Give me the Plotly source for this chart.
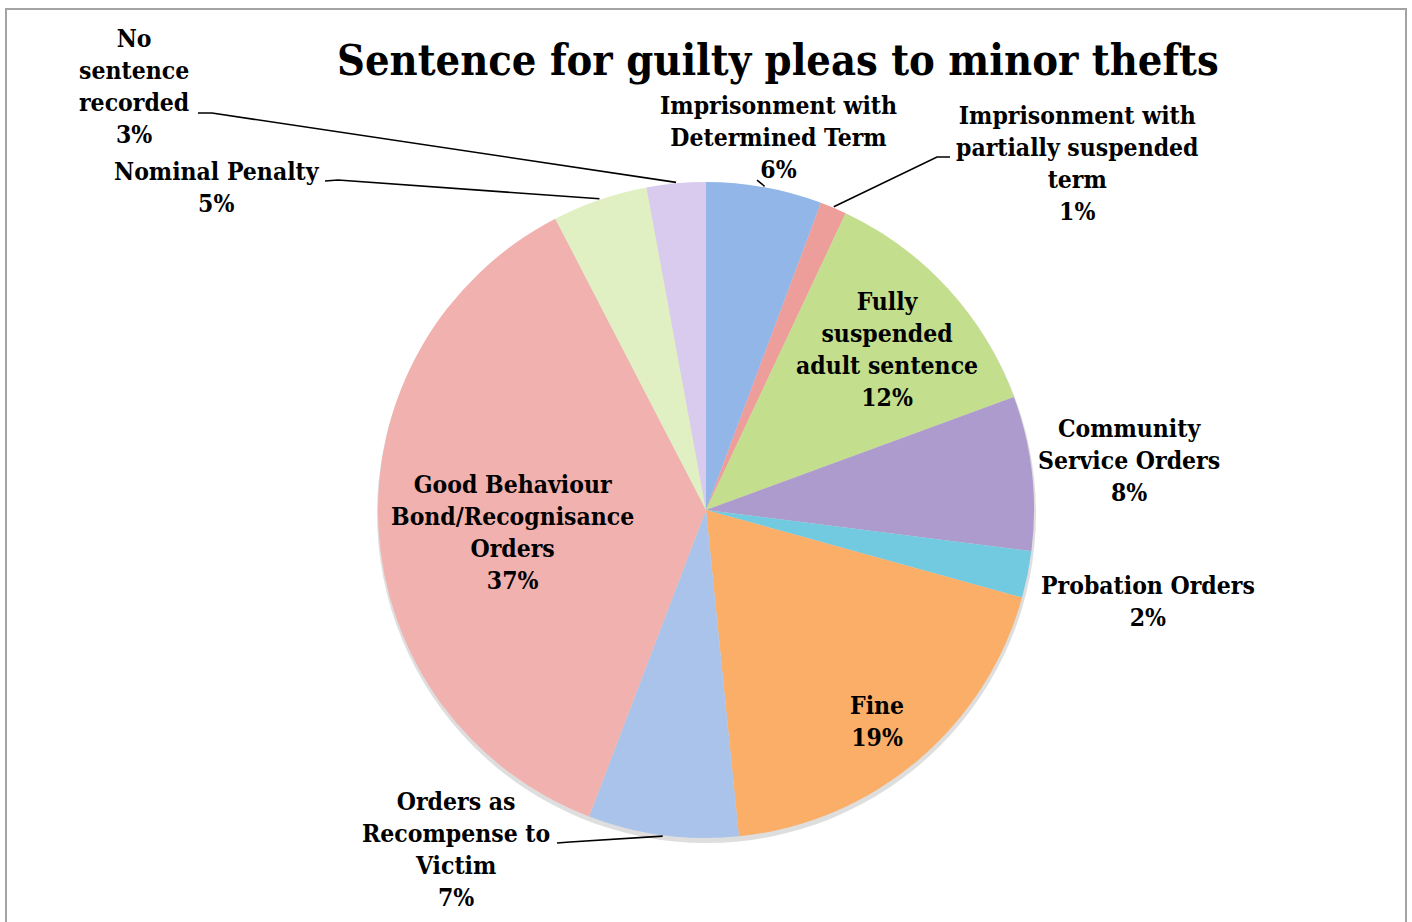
import math
import plotly.graph_objects as go

# ---- data ----
categories = [
    "Imprisonment with Determined Term",
    "Imprisonment with partially suspended term",
    "Fully suspended adult sentence",
    "Community Service Orders",
    "Probation Orders",
    "Fine",
    "Orders as Recompense to Victim",
    "Good Behaviour Bond/Recognisance Orders",
    "Nominal Penalty",
    "No sentence recorded",
]
values = [5.7, 1.3, 12.4, 7.6, 2.3, 19.1, 7.4, 36.6, 4.7, 2.9]
label_text = [
    "Imprisonment with<br>Determined Term",
    "Imprisonment with<br>partially suspended<br>term",
    "Fully<br>suspended<br>adult sentence",
    "Community<br>Service Orders",
    "Probation Orders",
    "Fine",
    "Orders as<br>Recompense to<br>Victim",
    "Good Behaviour<br>Bond/Recognisance<br>Orders",
    "Nominal Penalty",
    "No<br>sentence<br>recorded",
]
title_text = "Sentence for guilty pleas to minor thefts"

# ---- style ----
colors = ["#92b6e8", "#ee9e9a", "#c3de8c", "#ae9bcd", "#72cae1",
          "#fbae68", "#aac3ea", "#f1b1ae", "#e0f0c2", "#d8cbee"]
FONT = "DejaVu Serif Condensed, DejaVu Serif, serif"
FS = 24.5

W, H = 1412, 922
CX, CY, R = 706, 510, 328  # pie centre / radius in pixels


def px(x):
    return x / W


def py(y):
    return 1 - y / H


# label block centres (pixels)
label_pos = [(778, 137), (1077, 164), (887, 350), (1129, 460), (1148, 601),
             (877, 721), (456, 849), (512, 532), (217, 188), (134, 86)]
# leader lines: index -> (text-side point, elbow point)
leaders = {
    9: ((198, 113), (212, 113)),
    8: ((325, 181), (338, 180)),
    1: ((950, 157), (937, 157)),
    6: ((557, 843), (570, 842)),
    0: ((757, 180), (758, 181)),
}

fig = go.Figure()
fig.add_trace(go.Pie(
    labels=categories, values=values, sort=False, direction="clockwise",
    rotation=0, textinfo="none", hoverinfo="label+percent",
    marker=dict(colors=colors, line=dict(width=0)),
    domain=dict(x=[px(CX - R), px(CX + R)], y=[py(CY + R), py(CY - R)]),
    showlegend=False,
))

total = sum(values)
cum = 0.0
annotations = []
shapes = []
for i, v in enumerate(values):
    frac_mid = (cum + v / 2) / total
    cum += v
    pct = round(v / total * 100)
    x, y = label_pos[i]
    annotations.append(dict(
        x=px(x), y=py(y), xref="paper", yref="paper", showarrow=False,
        text=f"<b>{label_text[i]}<br>{pct}%</b>", align="center",
        xanchor="center", yanchor="middle",
        font=dict(family=FONT, size=FS, color="black"),
    ))
    if i in leaders:
        th = 2 * math.pi * frac_mid
        ex = CX + (R + 1) * math.sin(th)
        ey = CY - (R + 1) * math.cos(th)
        (x0, y0), (x1, y1) = leaders[i]
        path = f"M {px(x0)},{py(y0)} L {px(x1)},{py(y1)} L {px(ex)},{py(ey)}"
        shapes.append(dict(type="path", xref="paper", yref="paper", path=path,
                           line=dict(color="black", width=1.6)))

# soft shadow under the pie
shapes.insert(0, dict(type="circle", xref="paper", yref="paper", layer="below",
                      x0=px(CX - R - 1), x1=px(CX + R + 2),
                      y0=py(CY + R + 5), y1=py(CY - R + 2),
                      fillcolor="rgba(0,0,0,0.13)", line=dict(width=0)))
# chart frame
shapes.append(dict(type="rect", xref="paper", yref="paper",
                   x0=px(6), x1=px(1406), y0=py(940), y1=py(9),
                   line=dict(color="#a3a3a3", width=2)))

annotations.append(dict(
    x=px(778), y=py(60), xref="paper", yref="paper", showarrow=False,
    text=f"<b>{title_text}</b>", xanchor="center", yanchor="middle",
    font=dict(family=FONT, size=43, color="black"),
))

fig.update_layout(
    width=W, height=H, margin=dict(l=0, r=0, t=0, b=0),
    paper_bgcolor="white", plot_bgcolor="white",
    annotations=annotations, shapes=shapes,
)
fig.write_html(
    "out.html",
    config={"displayModeBar": False},
    post_script="document.body.style.margin='0';document.body.style.overflow='hidden';",
)
